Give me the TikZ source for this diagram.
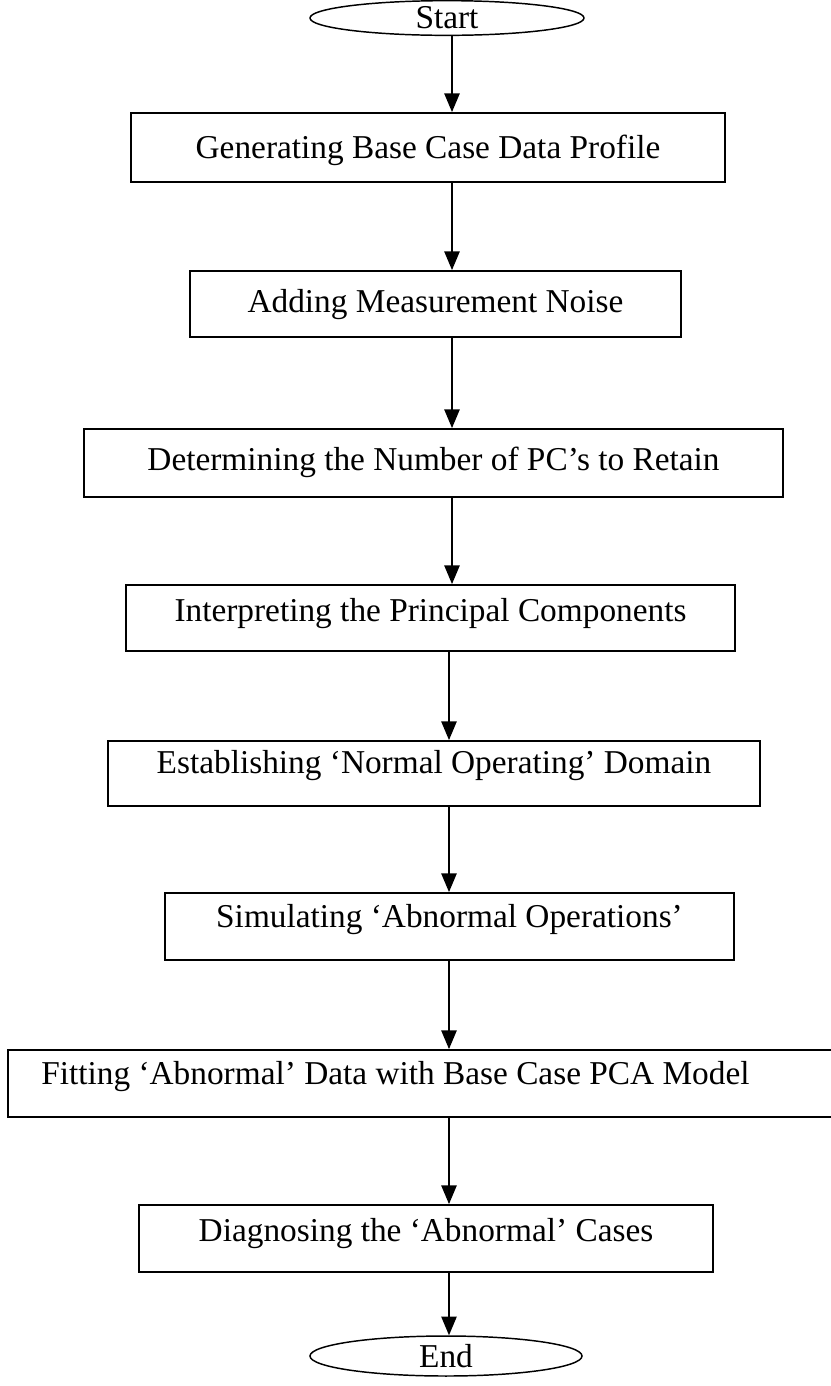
\documentclass[tikz,border=0pt]{standalone}
\usepackage{fontspec}
\setmainfont{Liberation Serif}
\usetikzlibrary{arrows.meta,shapes.geometric}
\tikzset{
  boxshape/.style={draw, rectangle, line width=1.4pt, inner xsep=0pt, inner ysep=0pt,
    font=\fontsize{25}{29}\selectfont},
  oval/.style={draw, ellipse, line width=1.1pt, inner sep=0pt,
    font=\fontsize{25}{29}\selectfont},
  arr/.style={line width=1.1pt, -{Triangle[width=11.5pt,length=14pt]}},
}
% name, x1, y1, x2, y2, text shift (px, down), text
\newcommand\flowbox[7]{%
  \pgfmathsetmacro\bw{(#4-#2)*0.75}%
  \pgfmathsetmacro\bh{(#5-#3)*0.75}%
  \pgfmathsetmacro\bt{0.56*\bh+0.75*#6}%
  \pgfmathsetmacro\bd{\bh-\bt}%
  \node[boxshape, minimum width=\bw pt, text height=\bt pt, text depth=\bd pt]
    (#1) at ({(#2+#4)/2},{(#3+#5)/2}) {#7};}
\begin{document}
\begin{tikzpicture}[x=0.75pt,y=-0.75pt]
\useasboundingbox (0,0) rectangle (831,1386);
\coordinate (ax) at (452,0);
\coordinate (bx) at (449,0);

\node[oval, minimum width=205.5pt, minimum height=26pt] (st) at (447,18) {Start};

\flowbox{b1}{131}{113}{725}{182}{7}{Generating Base Case Data Profile}
\flowbox{b2}{190}{271}{681}{337}{5}{Adding Measurement Noise}
\flowbox{b3}{84}{429}{783}{497}{3}{Determining the Number of PC’s to Retain}
\flowbox{b4}{126}{585}{735}{651}{0}{Interpreting the Principal Components}
\flowbox{b5}{108}{741}{760}{806}{-4}{Establishing ‘Normal Operating’ Domain}
\flowbox{b6}{165}{893}{734}{960}{-3}{Simulating ‘Abnormal Operations’}
\flowbox{b7}{8}{1050}{860}{1117}{-3}{\makebox[639pt][l]{\hspace*{25pt}Fitting ‘Abnormal’ Data with Base Case PCA Model}}
\flowbox{b8}{139}{1205}{713}{1272}{-1}{Diagnosing the ‘Abnormal’ Cases}

\node[oval, minimum width=204pt, minimum height=30pt] (en) at (446,1356) {End};

\draw[arr] (st.south -| ax) -- (b1.north -| ax);
\draw[arr] (b1.south -| ax) -- (b2.north -| ax);
\draw[arr] (b2.south -| ax) -- (b3.north -| ax);
\draw[arr] (b3.south -| ax) -- (b4.north -| ax);
\draw[arr] (b4.south -| bx) -- (b5.north -| bx);
\draw[arr] (b5.south -| bx) -- (b6.north -| bx);
\draw[arr] (b6.south -| bx) -- (b7.north -| bx);
\draw[arr] (b7.south -| bx) -- (b8.north -| bx);
\draw[arr] (b8.south -| bx) -- (en.north -| bx);
\end{tikzpicture}
\end{document}
